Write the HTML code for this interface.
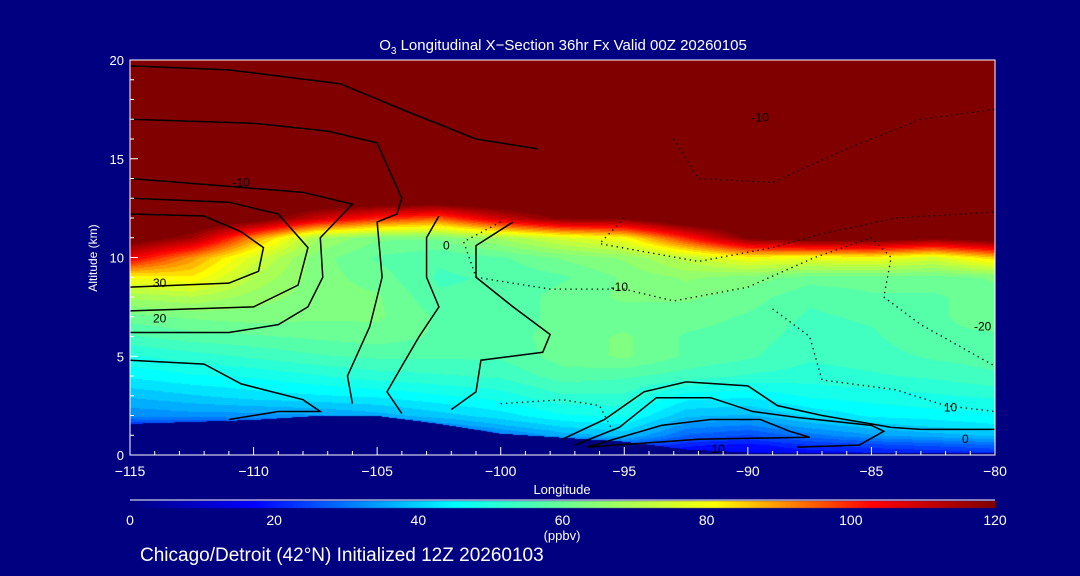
<!DOCTYPE html>
<html><head><meta charset="utf-8"><style>
body{margin:0;background:#000080;width:1080px;height:576px;overflow:hidden;font-family:"Liberation Sans",sans-serif;color:#fff}
#wrap{position:relative;width:1080px;height:576px}
svg text{font-family:"Liberation Sans",sans-serif}
</style></head><body>
<div id="wrap">
<canvas id="cv" width="1080" height="576" style="position:absolute;left:0;top:0"></canvas>
<svg id="sv" width="1080" height="576" style="position:absolute;left:0;top:0"></svg>
</div>
<script>
const lons=[-115,-112.5,-110,-107.5,-105,-102.5,-100,-97.5,-95,-92.5,-90,-87.5,-85,-82.5,-80];
const alts=[0,0.5,1,1.5,2,3,4,5,6,7,8,9,10,11,12,13,20];
const o3=[
[12,12,12,12,12,12,12,14,16,16,16,16,18,18,20],
[12,12,12,12,12,12,14,20,26,20,18,22,24,26,28],
[14,14,14,14,14,18,30,36,38,28,25,30,34,36,38],
[22,22,24,24,24,32,37,41,43,33,31,36,39,41,43],
[32,33,33,34,36,39,42,46,47,38,37,41,44,45,46],
[38,40,42,43,44,46,48,52,52,45,44,47,48,49,50],
[44,46,47,49,51,52,53,57,56,54,52,51,52,53,55],
[49,51,53,55,56,56,56,60,62,58,56,53,54,56,57],
[55,57,58,59,60,58,57,60,62,58,57,54,55,58,58],
[60,62,63,62,62,58,56,60,60,60,58,55,56,58,60],
[68,70,66,63,62,56,56,60,62,62,60,56,58,58,60],
[80,82,70,63,60,55,56,58,62,65,63,60,60,60,62],
[105,90,75,63,58,56,58,62,65,72,80,78,80,75,85],
[125,115,90,68,62,62,68,75,80,100,120,125,125,120,125],
[130,130,125,110,100,95,110,120,120,130,130,130,130,130,130],
[130,130,130,130,130,130,130,130,130,130,130,130,130,130,130],
[130,130,130,130,130,130,130,130,130,130,130,130,130,130,130]];
const terrain=[1.6,1.7,1.8,2.0,2.0,1.6,1.1,0.9,0.7,0.3,0.15,0.15,0.15,0.15,0.15];
const xTicks=[-115,-110,-105,-100,-95,-90,-85,-80];
const yTicks=[0,5,10,15,20];
const cbTicks=[0,20,40,60,80,100,120];
const contours=[
{d:0,p:[[-115,19.7],[-111,19.5],[-106.5,18.8],[-104,17.5],[-101,16],[-98.5,15.5]]},
{d:0,p:[[-115,17],[-110,16.8],[-107,16.4],[-105,15.8],[-104,13],[-104.2,12.2],[-105,11.8],[-104.8,9],[-105.3,6.5],[-106.2,4],[-106,2.6]]},
{d:0,p:[[-115,14],[-111,13.6],[-108,13.3],[-106,12.7],[-107.3,11],[-107.2,9],[-107.8,7.5],[-109,6.6],[-111,6.2],[-115,6.2]]},
{d:0,p:[[-115,13],[-111,12.8],[-109,12.2],[-107.8,10.5],[-108.2,8.6],[-110,7.5],[-115,7.3]]},
{d:0,p:[[-115,12.2],[-112,12.1],[-110.5,11.3],[-109.6,10.5],[-109.8,9.3],[-111,8.7],[-115,8.5]]},
{d:0,p:[[-115,4.8],[-112,4.6],[-110.5,3.6],[-108,2.8],[-107.3,2.2],[-109,2.2],[-111,1.8]]},
{d:0,p:[[-102.5,12.1],[-103,11],[-103,9],[-102.5,7.5],[-103.3,6],[-104,4.5],[-104.6,3.2],[-104,2.1]]},
{d:0,p:[[-99.5,11.8],[-101,10.6],[-101,9],[-99.5,7.5],[-98,6.1],[-98.3,5.2],[-100.8,4.8],[-101,3.2],[-102,2.3]]},
{d:1,p:[[-100,11.8],[-101.5,10.8],[-101,9],[-98,8.4],[-95,8.4],[-93,7.8],[-90,8.5],[-87.3,10],[-85,11],[-84.2,10],[-84.5,8],[-83,6.6],[-80,4.5]]},
{d:1,p:[[-95,12],[-96,10.7],[-92,9.8],[-89,10.5],[-87,11.2],[-84,12],[-80,12.3]]},
{d:1,p:[[-93,16],[-92,14],[-89,13.8],[-86,15.5],[-83,17],[-80,17.5]]},
{d:1,p:[[-100,2.6],[-97.5,2.8],[-96,2.5],[-95.5,1.3]]},
{d:1,p:[[-89,7.4],[-87.5,6],[-87,3.8],[-84,3.3],[-82,2.5],[-80,2.2]]},
{d:0,p:[[-97.5,0.8],[-95.8,1.8],[-94.2,3.2],[-92.5,3.7],[-90,3.5],[-88.8,2.5],[-87,2],[-84.2,1.4],[-83,1.3],[-80,1.3]]},
{d:0,p:[[-97,0.5],[-95.2,1.4],[-93.7,2.9],[-91.5,2.9],[-89.8,2.2],[-88,1.9],[-85,1.5],[-84.5,1.2],[-85.5,0.5],[-88,0.4]]},
{d:0,p:[[-96.5,0.4],[-93.5,1.5],[-91.5,1.8],[-89.5,1.8],[-88.3,1.2],[-87.5,0.9],[-92,0.8],[-96.5,0.4]]}];
const clabels=[["30",-113.8,8.7],["20",-113.8,6.9],["-10",-110.5,13.8],["0",-102.2,10.6],["-10",-95.2,8.5],["-10",-89.5,17.1],["0",-81.2,0.8],["10",-81.8,2.4],["-20",-80.5,6.5],["10",-91.2,0.3]];

const X0=130,X1=995,Y0=455,Y1=60;
const sx=l=>X0+(l+115)/35*(X1-X0);
const sy=a=>Y0-a/20*(Y0-Y1);
const cstops=[[0,[0,0,128]],[17,[0,0,255]],[45,[0,255,255]],[63,[128,255,128]],[81,[255,255,0]],[103,[255,0,0]],[120,[128,0,0]]];
function cmap(v){v=Math.max(0,Math.min(120,v));for(let i=1;i<cstops.length;i++){if(v<=cstops[i][0]){const a=cstops[i-1],b=cstops[i],t=(v-a[0])/(b[0]-a[0]);return a[1].map((c,k)=>Math.round(c+(b[1][k]-c)*t));}}return cstops[6][1];}
function idx(arr,v){for(let i=0;i<arr.length-1;i++)if(v<=arr[i+1])return[i,(v-arr[i])/(arr[i+1]-arr[i])];return[arr.length-2,1];}
const cv=document.getElementById('cv'),ctx=cv.getContext('2d');
const img=ctx.createImageData(X1-X0,Y0-Y1);
for(let py=0;py<Y0-Y1;py++){const a=(Y0-(Y1+py))/(Y0-Y1)*20;const[ai,at]=idx(alts,a);
for(let px=0;px<X1-X0;px++){const l=-115+px/(X1-X0)*35;const[li,lt]=idx(lons,l);
const ter=terrain[li]*(1-lt)+terrain[li+1]*lt;let c;
if(a<ter)c=[0,0,128];else{const v=(o3[ai][li]*(1-lt)+o3[ai][li+1]*lt)*(1-at)+(o3[ai+1][li]*(1-lt)+o3[ai+1][li+1]*lt)*at;c=cmap(Math.round(v/3)*3);}
const k=(py*(X1-X0)+px)*4;img.data[k]=c[0];img.data[k+1]=c[1];img.data[k+2]=c[2];img.data[k+3]=255;}}
ctx.putImageData(img,X0,Y1);
for(let px=0;px<=X1-X0;px++){const c=cmap(px/(X1-X0)*120);ctx.fillStyle=`rgb(${c})`;ctx.fillRect(X0+px,501,1,7);}

const sv=document.getElementById('sv');const NS='http://www.w3.org/2000/svg';
function mk(t,at,txt){const e=document.createElementNS(NS,t);for(const k in at)e.setAttribute(k,at[k]);if(txt!=null)e.textContent=txt;sv.appendChild(e);return e;}
contours.forEach((c,i)=>{const e=mk('polyline',{points:c.p.map(q=>sx(q[0])+','+sy(q[1])).join(' '),fill:'none',stroke:'#000','stroke-width':c.d?1.3:1.5,'stroke-dasharray':c.d?'1.3 4':'none'});

});
clabels.forEach(l=>{const e=mk('text',{x:sx(l[1]),y:sy(l[2])+4,'font-size':12,fill:'#000','text-anchor':'middle'},l[0]);

});
let f=mk('rect',{x:X0,y:Y1,width:X1-X0,height:Y0-Y1,fill:'none',stroke:'#fff','stroke-width':1});

for(let l=-115;l<=-80;l++){const major=l%5===0;const e=mk('line',{x1:sx(l),x2:sx(l),y1:Y0,y2:Y0-(major?8:4),stroke:'#fff'});
}
xTicks.forEach(l=>{const e=mk('text',{x:sx(l),y:476,'font-size':14,fill:'#fff','text-anchor':'middle'},(l<0?'\u2212':'')+Math.abs(l));
});
for(let a=0;a<=20;a++){const major=a%5===0;const e=mk('line',{x1:X0,x2:X0+(major?8:4),y1:sy(a),y2:sy(a),stroke:'#fff'});
}
yTicks.forEach(a=>{const e=mk('text',{x:124,y:sy(a)+5,'font-size':13,fill:'#fff','text-anchor':'end'},a);
});
let t=mk('text',{x:97,y:258,'font-size':12,fill:'#fff','text-anchor':'middle',transform:'rotate(-90 97 258)'},'Altitude (km)');

t=mk('text',{x:562,y:494,'font-size':13,fill:'#fff','text-anchor':'middle'},'Longitude');

t=mk('line',{x1:X0,x2:X1,y1:500,y2:500,stroke:'#fff'});

cbTicks.forEach(v=>{const e=mk('text',{x:X0+v/120*(X1-X0),y:525,'font-size':14,fill:'#fff','text-anchor':'middle'},v);
});
t=mk('text',{x:562,y:540,'font-size':13,fill:'#fff','text-anchor':'middle'},'(ppbv)');

t=mk('text',{x:563,y:50,'font-size':15,fill:'#fff','text-anchor':'middle'});
t.innerHTML='O<tspan font-size="10" dy="4">3</tspan><tspan dy="-4"> Longitudinal X\u2212Section 36hr  Fx Valid 00Z 20260105</tspan>';

t=mk('text',{x:140,y:561,'font-size':19,fill:'#fff'},'Chicago/Detroit (42\u00b0N) Initialized 12Z 20260103');

</script>
</body></html>
